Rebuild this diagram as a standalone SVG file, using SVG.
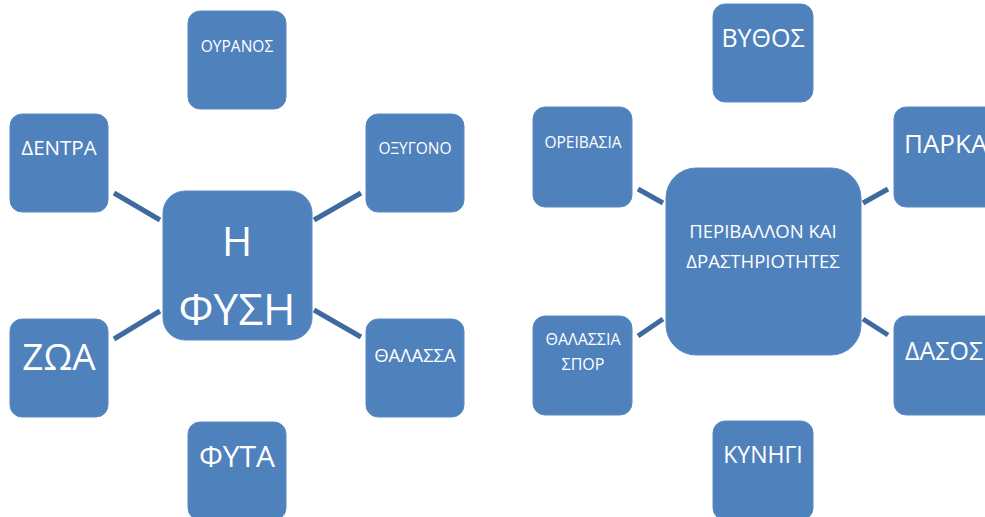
<svg xmlns="http://www.w3.org/2000/svg" width="985" height="517" viewBox="0 0 985 517">
<style>
.box{fill:#4f81bd;stroke:#5b8ac3;stroke-width:1}
.lbl{fill:#ffffff;font-family:"Open Sans","Noto Sans","DejaVu Sans",sans-serif;text-anchor:middle}
.con line{stroke:#3f6aa0;stroke-width:5;stroke-linecap:butt}
</style>
<rect width="985" height="517" fill="#ffffff"/>
<g class="con" id="connectors">
<line x1="114" y1="193" x2="160" y2="220"/>
<line x1="114" y1="339" x2="160" y2="311"/>
<line x1="314" y1="220" x2="361" y2="193"/>
<line x1="314" y1="310" x2="361" y2="337"/>
<line x1="638" y1="189" x2="663" y2="203"/>
<line x1="863" y1="203" x2="888" y2="189"/>
<line x1="638" y1="336" x2="663" y2="319"/>
<line x1="863" y1="319" x2="888" y2="335"/>
</g>
<g id="fysi"><rect class="box" x="163" y="191" width="149" height="149" rx="22"/>
<text class="lbl" x="237" y="256" font-size="41">Η</text>
<text class="lbl" x="237" y="325" font-size="44">ΦΥΣΗ</text></g>
<g id="ouranos"><rect class="box" x="188" y="11" width="98" height="98" rx="12"/>
<text class="lbl" x="237" y="52" font-size="15.5">ΟΥΡΑΝΟΣ</text></g>
<g id="dentra"><rect class="box" x="10" y="114" width="98" height="98" rx="12"/>
<text class="lbl" x="59" y="155" font-size="20.5">ΔΕΝΤΡΑ</text></g>
<g id="oxygono"><rect class="box" x="366" y="114" width="98" height="98" rx="12"/>
<text class="lbl" x="415" y="154" font-size="15.5">ΟΞΥΓΟΝΟ</text></g>
<g id="zoa"><rect class="box" x="10" y="319" width="98" height="98" rx="12"/>
<text class="lbl" x="59" y="370" font-size="37">ΖΩΑ</text></g>
<g id="thalassa"><rect class="box" x="366" y="319" width="98" height="98" rx="12"/>
<text class="lbl" x="415" y="362" font-size="18.5">ΘΑΛΑΣΣΑ</text></g>
<g id="fyta"><rect class="box" x="188" y="422" width="98" height="98" rx="12"/>
<text class="lbl" x="237" y="467" font-size="30">ΦΥΤΑ</text></g>
<g id="perivallon"><rect class="box" x="666" y="168" width="195" height="187" rx="30"/>
<text class="lbl" x="763" y="238" font-size="18.5">ΠΕΡΙΒΑΛΛΟΝ ΚΑΙ</text>
<text class="lbl" x="763" y="268" font-size="18.5">ΔΡΑΣΤΗΡΙΟΤΗΤΕΣ</text></g>
<g id="vythos"><rect class="box" x="713" y="4" width="100" height="98" rx="12"/>
<text class="lbl" x="763" y="47" font-size="25">ΒΥΘΟΣ</text></g>
<g id="oreivasia"><rect class="box" x="533" y="107" width="99" height="100" rx="12"/>
<text class="lbl" x="583" y="148" font-size="15.5">ΟΡΕΙΒΑΣΙΑ</text></g>
<g id="parka"><rect class="box" x="894" y="107" width="110" height="100" rx="12"/>
<text class="lbl" x="904" y="153" font-size="26" style="text-anchor:start">ΠΑΡΚΑ</text></g>
<g id="thalassia-spor"><rect class="box" x="533" y="316" width="99" height="99" rx="12"/>
<text class="lbl" x="583" y="345" font-size="16">ΘΑΛΑΣΣΙΑ</text>
<text class="lbl" x="583" y="370" font-size="16">ΣΠΟΡ</text></g>
<g id="dasos"><rect class="box" x="894" y="316" width="110" height="99" rx="12"/>
<text class="lbl" x="905" y="360" font-size="25" style="text-anchor:start">ΔΑΣΟΣ</text></g>
<g id="kynigi"><rect class="box" x="713" y="421" width="100" height="99" rx="12"/>
<text class="lbl" x="763" y="463" font-size="23">ΚΥΝΗΓΙ</text></g>
</svg>
